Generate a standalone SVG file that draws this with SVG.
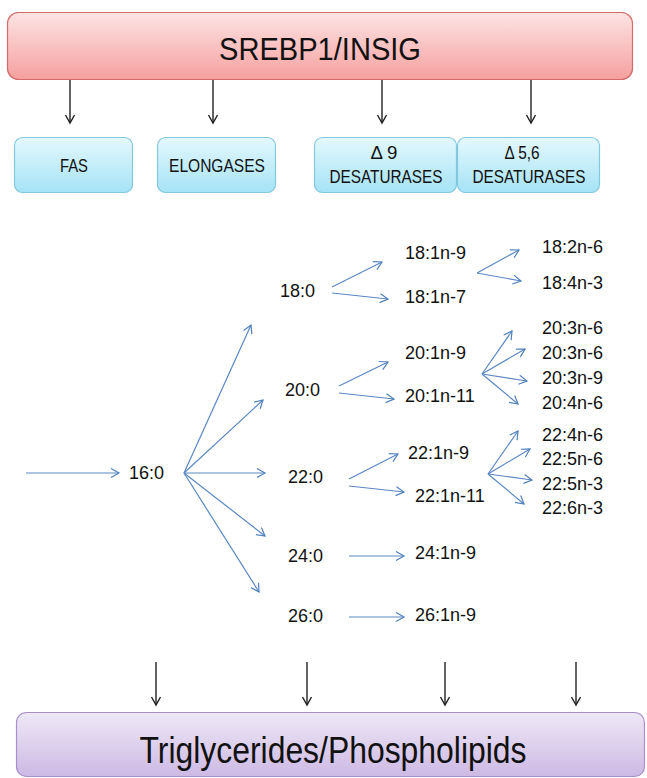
<svg xmlns="http://www.w3.org/2000/svg" width="647" height="778" viewBox="0 0 647 778">
<defs>
<linearGradient id="gRed" x1="0" y1="0" x2="0" y2="1">
<stop offset="0" stop-color="#fde4e4"/><stop offset="1" stop-color="#f5a09f"/>
</linearGradient>
<linearGradient id="gBlue" x1="0" y1="0" x2="0" y2="1">
<stop offset="0" stop-color="#e4f8fd"/><stop offset="1" stop-color="#a6e3f6"/>
</linearGradient>
<linearGradient id="gPurple" x1="0" y1="0" x2="0" y2="1">
<stop offset="0" stop-color="#eee8f6"/><stop offset="1" stop-color="#cdb9e4"/>
</linearGradient>
<marker id="ab" markerUnits="userSpaceOnUse" markerWidth="12" markerHeight="12" refX="9" refY="5" orient="auto">
<path d="M1,0.5 L9,5 L1,9.5" fill="none" stroke="#4f81bd" stroke-width="1.2"/>
</marker>
<marker id="ak" markerUnits="userSpaceOnUse" markerWidth="12" markerHeight="12" refX="9" refY="5" orient="auto">
<path d="M1,0.5 L9,5 L1,9.5" fill="none" stroke="#222" stroke-width="1.4"/>
</marker>
</defs>
<style>
text{font-family:"Liberation Sans",Arial,sans-serif;fill:#111;}
.big{font-size:31px;text-anchor:middle;}
.huge{font-size:36px;text-anchor:middle;}
.enz{font-size:17.5px;text-anchor:middle;}
.fa{font-size:18px;}
.blue{stroke:#5a87c4;stroke-width:1.2;fill:none;marker-end:url(#ab);}
.blk{stroke:#222;stroke-width:1.4;fill:none;marker-end:url(#ak);}
.bbox{fill:url(#gBlue);stroke:#82c8de;stroke-width:1.2;}
</style>

<g id="srebp">
<rect x="7.5" y="12.5" width="625" height="67" rx="11" fill="url(#gRed)" stroke="#d46a6a" stroke-width="1.2"/>
<text class="big" x="320" y="60" textLength="202" lengthAdjust="spacingAndGlyphs">SREBP1/INSIG</text>
</g>

<g id="fas"><rect class="bbox" x="14.5" y="137.5" width="118" height="55" rx="8"/><text class="enz" x="74" y="172" textLength="28" lengthAdjust="spacingAndGlyphs">FAS</text></g>
<g id="elongases"><rect class="bbox" x="157.5" y="137.5" width="118" height="55" rx="8"/><text class="enz" x="217" y="172" textLength="96" lengthAdjust="spacingAndGlyphs">ELONGASES</text></g>
<g id="d9"><rect class="bbox" x="314.5" y="137.5" width="142" height="55" rx="8"/><text class="enz" x="384" y="159" textLength="27" lengthAdjust="spacingAndGlyphs">Δ 9</text><text class="enz" x="386" y="183" textLength="113" lengthAdjust="spacingAndGlyphs">DESATURASES</text></g>
<g id="d56"><rect class="bbox" x="457.5" y="137.5" width="142" height="55" rx="8"/><text class="enz" x="522" y="159" textLength="35" lengthAdjust="spacingAndGlyphs">Δ 5,6</text><text class="enz" x="529" y="183" textLength="113" lengthAdjust="spacingAndGlyphs">DESATURASES</text></g>

<g id="tg">
<rect x="16.5" y="712.5" width="628" height="64" rx="10" fill="url(#gPurple)" stroke="#a98fcb" stroke-width="1.2"/>
<text class="huge" x="333" y="763" textLength="387" lengthAdjust="spacingAndGlyphs">Triglycerides/Phospholipids</text>
</g>

<g id="n16"><text class="fa" x="129" y="479">16:0</text></g>
<g id="n18"><text class="fa" x="280" y="297">18:0</text></g>
<g id="n20"><text class="fa" x="285" y="396">20:0</text></g>
<g id="n22"><text class="fa" x="288" y="483">22:0</text></g>
<g id="n24"><text class="fa" x="288" y="562">24:0</text></g>
<g id="n26"><text class="fa" x="288" y="622">26:0</text></g>
<g id="n181n9"><text class="fa" x="405" y="259">18:1n-9</text></g>
<g id="n181n7"><text class="fa" x="405" y="303">18:1n-7</text></g>
<g id="n182n6"><text class="fa" x="542" y="253">18:2n-6</text></g>
<g id="n184n3"><text class="fa" x="542" y="289">18:4n-3</text></g>
<g id="n201n9"><text class="fa" x="405" y="359">20:1n-9</text></g>
<g id="n201n11"><text class="fa" x="405" y="402">20:1n-11</text></g>
<g id="n203n6a"><text class="fa" x="542" y="334">20:3n-6</text></g>
<g id="n203n6b"><text class="fa" x="542" y="359">20:3n-6</text></g>
<g id="n203n9"><text class="fa" x="542" y="384">20:3n-9</text></g>
<g id="n204n6"><text class="fa" x="542" y="409">20:4n-6</text></g>
<g id="n221n9"><text class="fa" x="408" y="459">22:1n-9</text></g>
<g id="n221n11"><text class="fa" x="415" y="502">22:1n-11</text></g>
<g id="n224n6"><text class="fa" x="542" y="441">22:4n-6</text></g>
<g id="n225n6"><text class="fa" x="542" y="465">22:5n-6</text></g>
<g id="n225n3"><text class="fa" x="542" y="490">22:5n-3</text></g>
<g id="n226n3"><text class="fa" x="542" y="514">22:6n-3</text></g>
<g id="n241n9"><text class="fa" x="415" y="559">24:1n-9</text></g>
<g id="n261n9"><text class="fa" x="415" y="621">26:1n-9</text></g>

<g id="connectors">
<line class="blk" x1="70" y1="80" x2="70" y2="123"/>
<line class="blk" x1="213" y1="80" x2="213" y2="123"/>
<line class="blk" x1="382" y1="80" x2="382" y2="123"/>
<line class="blk" x1="531" y1="80" x2="531" y2="123"/>
<line class="blk" x1="156" y1="662" x2="156" y2="705"/>
<line class="blk" x1="307" y1="662" x2="307" y2="705"/>
<line class="blk" x1="445" y1="662" x2="445" y2="705"/>
<line class="blk" x1="576" y1="662" x2="576" y2="705"/>

<line class="blue" x1="26" y1="473" x2="119" y2="473"/>
<line class="blue" x1="184" y1="473" x2="251" y2="325"/>
<line class="blue" x1="184" y1="473" x2="263" y2="400"/>
<line class="blue" x1="184" y1="473" x2="265" y2="473"/>
<line class="blue" x1="184" y1="473" x2="265" y2="536"/>
<line class="blue" x1="184" y1="473" x2="259" y2="592"/>

<line class="blue" x1="332" y1="287" x2="382" y2="262"/>
<line class="blue" x1="332" y1="293" x2="388" y2="299"/>
<line class="blue" x1="477" y1="273" x2="519" y2="250"/>
<line class="blue" x1="477" y1="273" x2="521" y2="281"/>

<line class="blue" x1="339" y1="386" x2="388" y2="362"/>
<line class="blue" x1="339" y1="393" x2="394" y2="399"/>
<line class="blue" x1="482" y1="374" x2="512" y2="331"/>
<line class="blue" x1="482" y1="374" x2="525" y2="349"/>
<line class="blue" x1="482" y1="374" x2="527" y2="381"/>
<line class="blue" x1="482" y1="374" x2="518" y2="404"/>

<line class="blue" x1="349" y1="479" x2="398" y2="454"/>
<line class="blue" x1="349" y1="486" x2="404" y2="492"/>
<line class="blue" x1="488" y1="474" x2="518" y2="431"/>
<line class="blue" x1="488" y1="474" x2="530" y2="449"/>
<line class="blue" x1="488" y1="474" x2="532" y2="480"/>
<line class="blue" x1="488" y1="474" x2="524" y2="504"/>

<line class="blue" x1="349" y1="556" x2="404" y2="556"/>
<line class="blue" x1="349" y1="617" x2="404" y2="617"/>
</g>
</svg>
